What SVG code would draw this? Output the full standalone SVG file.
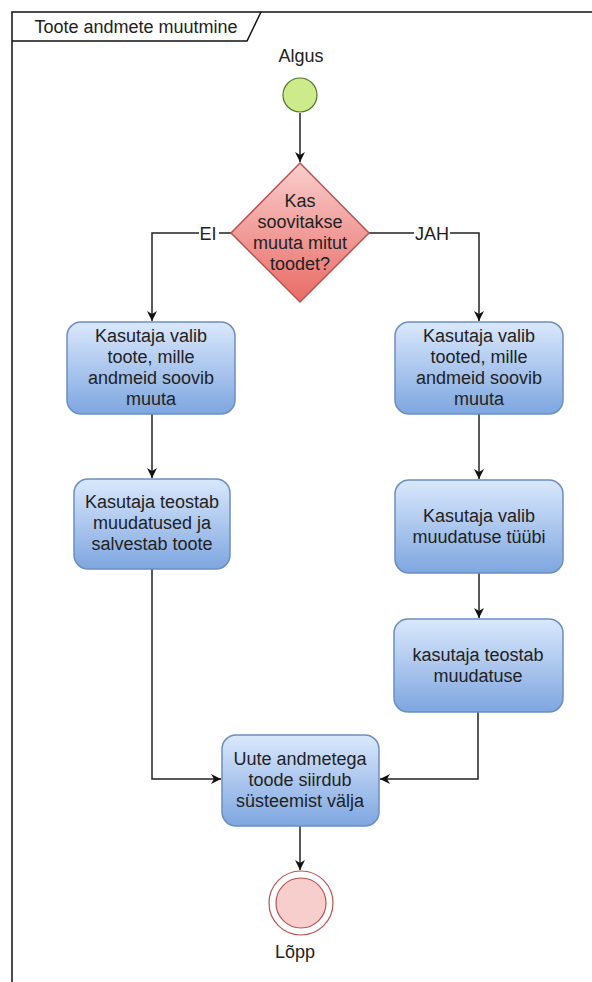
<svg xmlns="http://www.w3.org/2000/svg" width="592" height="982" viewBox="0 0 592 982">
<style>
text{font-family:"Liberation Sans",Arial,sans-serif;font-size:18px;fill:#222;text-anchor:middle}
.box{fill:url(#gb);stroke:#6c8ebf;stroke-width:1.5}
.ln{fill:none;stroke:#222;stroke-width:1.5}
.lbl{fill:#fff;stroke:none}
</style>
<defs>
<linearGradient id="gb" x1="0" y1="0" x2="0" y2="1"><stop offset="0" stop-color="#dae8fc"/><stop offset="1" stop-color="#7ea6e0"/></linearGradient>
<linearGradient id="gr" x1="0" y1="0" x2="0" y2="1"><stop offset="0" stop-color="#f8cecc"/><stop offset="1" stop-color="#ea6b66"/></linearGradient>
<marker id="ar" viewBox="0 0 10 10" refX="10" refY="5" markerWidth="10" markerHeight="10" markerUnits="userSpaceOnUse" orient="auto"><path d="M0,0 L10,5 L0,10 L3,5 Z" fill="#111"/></marker>
</defs>
<g id="frame">
<path d="M12,982 V12 H592" fill="none" stroke="#111" stroke-width="1.5"/>
<path d="M12,41 H247 L261,12" fill="none" stroke="#111" stroke-width="1.5"/>
<text x="136" y="33">Toote andmete muutmine</text>
</g>
<g id="connectors">
<path class="ln" d="M300,113 V162" marker-end="url(#ar)"/>
<path class="ln" d="M231,233 H152 V321" marker-end="url(#ar)"/>
<path class="ln" d="M369,233 H479 V321" marker-end="url(#ar)"/>
<path class="ln" d="M152,414 V478" marker-end="url(#ar)"/>
<path class="ln" d="M479,414 V479" marker-end="url(#ar)"/>
<path class="ln" d="M479,573 V618" marker-end="url(#ar)"/>
<path class="ln" d="M152,569 V779 H221" marker-end="url(#ar)"/>
<path class="ln" d="M478,712 V779 H380" marker-end="url(#ar)"/>
<path class="ln" d="M300,826 V870" marker-end="url(#ar)"/>
<rect class="lbl" x="199" y="224" width="20" height="18"/>
<text x="208" y="240">EI</text>
<rect class="lbl" x="414" y="224" width="36" height="18"/>
<text x="432" y="240">JAH</text>
</g>
<g id="start">
<text x="301" y="62">Algus</text>
<circle cx="300" cy="95" r="17" fill="#cdeb8b" stroke="#4d7a2a" stroke-width="1.2"/>
</g>
<g id="decision">
<polygon points="300,163 369,233 300,302 231,233" fill="url(#gr)" stroke="#b85450" stroke-width="1.5"/>
<text x="300" y="207">Kas</text>
<text x="300" y="228">soovitakse</text>
<text x="300" y="249">muuta mitut</text>
<text x="300" y="270">toodet?</text>
</g>
<g id="left1">
<rect class="box" x="67" y="322" width="168" height="92" rx="14"/>
<text x="151" y="342">Kasutaja valib</text>
<text x="151" y="363">toote, mille</text>
<text x="151" y="384">andmeid soovib</text>
<text x="151" y="405">muuta</text>
</g>
<g id="left2">
<rect class="box" x="74" y="479" width="156" height="90" rx="14"/>
<text x="152" y="508">Kasutaja teostab</text>
<text x="152" y="529">muudatused ja</text>
<text x="152" y="550">salvestab toote</text>
</g>
<g id="right1">
<rect class="box" x="395" y="322" width="168" height="92" rx="14"/>
<text x="479" y="342">Kasutaja valib</text>
<text x="479" y="363">tooted, mille</text>
<text x="479" y="384">andmeid soovib</text>
<text x="479" y="405">muuta</text>
</g>
<g id="right2">
<rect class="box" x="395" y="480" width="168" height="93" rx="14"/>
<text x="479" y="522">Kasutaja valib</text>
<text x="479" y="543">muudatuse tüübi</text>
</g>
<g id="right3">
<rect class="box" x="394" y="619" width="169" height="93" rx="14"/>
<text x="478" y="661">kasutaja teostab</text>
<text x="478" y="682">muudatuse</text>
</g>
<g id="merge">
<rect class="box" x="222" y="735" width="157" height="91" rx="14"/>
<text x="300" y="765">Uute andmetega</text>
<text x="300" y="786">toode siirdub</text>
<text x="300" y="807">süsteemist välja</text>
</g>
<g id="end">
<circle cx="301" cy="903" r="32" fill="#fff" stroke="#b85450" stroke-width="1.2"/>
<circle cx="301" cy="903" r="25" fill="#f8cecc" stroke="#b85450" stroke-width="1.2"/>
<text x="295" y="958">Lõpp</text>
</g>
</svg>
